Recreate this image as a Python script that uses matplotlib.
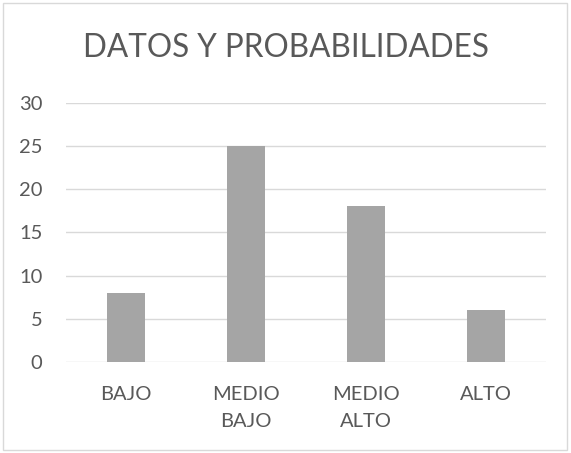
import matplotlib
matplotlib.use("Agg")
import matplotlib.pyplot as plt
from matplotlib.patches import Rectangle

categories = ["BAJO", "MEDIO\nBAJO", "MEDIO\nALTO", "ALTO"]
values = [8, 25, 18, 6]
yticks = [0, 5, 10, 15, 20, 25, 30]
title = "DATOS Y PROBABILIDADES"

W, H = 571, 453
plt.rcParams["font.family"] = ["Lato", "DejaVu Sans"]
text_color = "#595959"

fig = plt.figure(figsize=(W / 100, H / 100), dpi=100)
fig.patch.set_facecolor("white")

# chart frame
fig.patches.append(Rectangle((3 / W, 3 / H), 564 / W, 447 / H, transform=fig.transFigure,
                             fill=False, edgecolor="#d9d9d9", linewidth=1.0))

left, right = 66 / W, 546 / W
bottom, top = (H - 362) / H, (H - 102.7) / H
ax = fig.add_axes([left, bottom, right - left, top - bottom])

x = list(range(len(categories)))
ax.bar(x, values, width=0.31, color="#a5a5a5", zorder=3)

ax.set_xlim(-0.5, len(categories) - 0.5)
ax.set_ylim(0, 30)
ax.set_yticks(yticks)
ax.set_yticklabels([str(v) for v in yticks])
ax.set_xticks(x)
ax.set_xticklabels(categories, linespacing=1.75)

ax.grid(axis="y", color="#d9d9d9", linewidth=1.0, zorder=0)
for s in ax.spines.values():
    s.set_visible(False)
ax.tick_params(axis="both", length=0, colors=text_color, labelsize=14.5)
ax.tick_params(axis="y", pad=17)
ax.tick_params(axis="x", pad=17)
for lbl in ax.get_xticklabels() + ax.get_yticklabels():
    lbl.set_color(text_color)

fig.text(286 / W, (H - 48) / H, title, ha="center", va="center",
         fontsize=22.7, color=text_color)

fig.savefig("out.png", dpi=100, facecolor="white")
